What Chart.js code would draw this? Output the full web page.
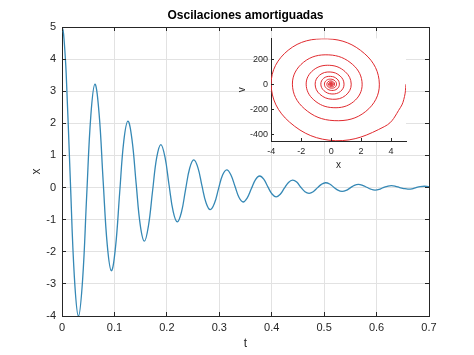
<!DOCTYPE html>
<html><head><meta charset="utf-8">
<script src="https://cdn.jsdelivr.net/npm/chart.js@4/dist/chart.umd.min.js"></script>
<style>
html,body{margin:0;padding:0;background:#fff;}
#wrap{position:relative;width:474px;height:355px;overflow:hidden;}
canvas{position:absolute;}
#main{left:0;top:0;width:474px;height:355px;}
#inset{left:228px;top:30px;width:190px;height:145px;}
</style>
</head><body>
<div id="wrap">
<canvas id="main" width="474" height="355"></canvas>
<canvas id="inset" width="190" height="145"></canvas>
</div>
<script>
// time samples (s)
const tValues = [0,0.0020,0.0039,0.0079,0.0157,0.0236,0.0314,0.0393,0.0471,0.0550,0.0628,0.0707,0.0785,0.0864,0.0942,0.1021,0.1100,0.1178,0.1257,0.1335,0.1414,0.1492,0.1571,0.1649,0.1728,0.1806,0.1885,0.1963,0.2042,0.2121,0.2199,0.2278,0.2356,0.2435,0.2513,0.2592,0.2670,0.2749,0.2827,0.2906,0.2985,0.3063,0.3142,0.3220,0.3299,0.3377,0.3456,0.3534,0.3613,0.3691,0.3770,0.3848,0.3927,0.4006,0.4084,0.4163,0.4241,0.4320,0.4398,0.4477,0.4555,0.4634,0.4712,0.4791,0.4869,0.4948,0.5027,0.5105,0.5184,0.5262,0.5341,0.5419,0.5498,0.5576,0.5655,0.5733,0.5812,0.5890,0.5969,0.6048,0.6126,0.6205,0.6283,0.6362,0.6440,0.6519,0.6597,0.6676,0.6754,0.6833,0.6912,0.6990,0.7000];
// displacement x(t)
const xValues = [5,4.90,4.62,3.58,0.31,-2.79,-4.01,-2.87,-0.25,2.24,3.22,2.31,0.20,-1.80,-2.59,-1.85,-0.16,1.44,2.07,1.49,0.13,-1.16,-1.67,-1.19,-0.10,0.93,1.34,0.96,0.08,-0.75,-1.07,-0.77,-0.07,0.60,0.86,0.62,0.05,-0.48,-0.69,-0.50,-0.04,0.39,0.55,0.40,0.04,-0.31,-0.45,-0.32,-0.03,0.25,0.36,0.26,0.02,-0.20,-0.29,-0.21,-0.02,0.16,0.23,0.17,0.01,-0.13,-0.18,-0.13,-0.01,0.10,0.15,0.11,0.01,-0.08,-0.12,-0.09,-0.01,0.07,0.10,0.07,0.01,-0.05,-0.08,-0.06,0,0.04,0.06,0.04,0,-0.03,-0.05,-0.04,0,0.03,0.04,0.03,0.03];
// velocity v(t)
const vValues = [0,-98,-187,-336,-450,-301,0,270,361,242,0,-217,-290,-194,0,174,233,156,0,-140,-187,-125,0,112,150,100,0,-90,-120,-81,0,72,97,65,0,-58,-78,-52,0,47,62,42,0,-37,-50,-33,0,30,40,27,0,-24,-32,-22,0,19,26,17,0,-16,-21,-14,0,12,17,11,0,-10,-13,-9,0,8,11,7,0,-6,-9,-6,0,5,7,5,0,-4,-6,-4,0,3,4,3,0,-3,-3];

const tTicks = [0,0.1,0.2,0.3,0.4,0.5,0.6,0.7];
const tTickLabels = ['0','0.1','0.2','0.3','0.4','0.5','0.6','0.7'];
const xTicks = [-4,-3,-2,-1,0,1,2,3,4,5];
const xTickLabels = ['-4','-3','-2','-1','0','1','2','3','4','5'];
const insetXTicks = [-4,-2,0,2,4];
const insetXTickLabels = ['-4','-2','0','2','4'];
const insetVTicks = [-400,-200,0,200];
const insetVTickLabels = ['-400','-200','0','200'];

const AX = '#262626';
const GRID = '#e2e2e2';
Chart.defaults.font.family = "'Liberation Sans', Arial, Helvetica, sans-serif";
Chart.defaults.color = AX;

function alignPx(p){ return Math.round(p - 0.5) + 0.5; }

const frame = {
  id: 'frame',
  beforeDraw(chart, args, opts){
    const {ctx, chartArea:a} = chart;
    ctx.save();
    ctx.fillStyle = '#fff';
    if (opts.full) ctx.fillRect(0,0,chart.width,chart.height);
    else ctx.fillRect(a.left, a.top, a.right-a.left, a.bottom-a.top);
    ctx.restore();
  },
  afterDraw(chart, args, opts){
    const {ctx, chartArea:a, scales} = chart;
    const L = opts.len;
    ctx.save();
    ctx.strokeStyle = AX; ctx.lineWidth = 1;
    ctx.beginPath();
    scales.x.ticks.forEach(t => {
      const p = alignPx(scales.x.getPixelForValue(t.value));
      ctx.moveTo(p, a.bottom); ctx.lineTo(p, a.bottom - L);
      if (opts.box){ ctx.moveTo(p, a.top); ctx.lineTo(p, a.top + L); }
    });
    scales.y.ticks.forEach(t => {
      const p = alignPx(scales.y.getPixelForValue(t.value));
      ctx.moveTo(a.left, p); ctx.lineTo(a.left + L, p);
      if (opts.box){ ctx.moveTo(a.right, p); ctx.lineTo(a.right - L, p); }
    });
    if (opts.box){
      const top = alignPx(a.top), right = alignPx(a.right);
      ctx.moveTo(a.left, top); ctx.lineTo(right, top);
      ctx.moveTo(right, top); ctx.lineTo(right, a.bottom);
    }
    ctx.stroke();
    ctx.restore();
  }
};

new Chart(document.getElementById('main'), {
  type: 'scatter',
  data: { datasets: [{
    data: tValues.map((t,i)=>({x:t, y:xValues[i]})),
    showLine: true, borderColor: '#3588b5', borderWidth: 1.3,
    pointRadius: 0, tension: 0.4, fill: false
  }]},
  options: {
    responsive: false, animation: false, devicePixelRatio: 1,
    layout: { padding: {left:0, right:45, top:0, bottom:0} },
    plugins: {
      legend: {display:false}, tooltip: {enabled:false},
      title: { display:true, text:'Oscilaciones amortiguadas', fullSize:false, color:'#000',
        font:{size:12, weight:'bold'}, padding:{top:8, bottom:4.6} },
      frame: { full:true, box:true, len:4 }
    },
    scales: {
      x: { type:'linear', min:0, max:0.7,
        afterBuildTicks: s => { s.ticks = tTicks.map(v=>({value:v})); },
        afterFit: s => { s.height = 39; },
        grid: { color: GRID, drawTicks:false },
        border: { color: AX, width: 1 },
        ticks: { color: AX, font:{size:11}, padding:5, maxRotation:0, autoSkip:false,
          callback: v => tTickLabels[tTicks.indexOf(v)] },
        title: { display:true, text:'t', color:AX, font:{size:12}, padding:{top:0, bottom:4} }
      },
      y: { type:'linear', min:-4, max:5,
        afterBuildTicks: s => { s.ticks = xTicks.map(v=>({value:v})); },
        afterFit: s => { s.width = 62; },
        grid: { color: GRID, drawTicks:false },
        border: { color: AX, width: 1 },
        ticks: { color: AX, font:{size:11}, padding:6, autoSkip:false,
          callback: v => xTickLabels[xTicks.indexOf(v)] },
        title: { display:true, text:'x', color:AX, font:{size:12}, padding:{top:29.5, bottom:0} }
      }
    }
  },
  plugins: [frame]
});

new Chart(document.getElementById('inset'), {
  type: 'scatter',
  data: { datasets: [{
    data: xValues.map((x,i)=>({x:x, y:vValues[i]})),
    showLine: true, borderColor: '#e02a2f', borderWidth: 1,
    pointRadius: 0, tension: 0.4, fill: false
  }]},
  options: {
    responsive: false, animation: false, devicePixelRatio: 1,
    layout: { padding: {left:0, right:12, top:5, bottom:0} },
    plugins: {
      legend: {display:false}, tooltip: {enabled:false},
      frame: { full:false, box:false, len:3 }
    },
    scales: {
      x: { type:'linear', min:-4.02, max:5,
        afterBuildTicks: s => { s.ticks = insetXTicks.map(v=>({value:v})); },
        afterFit: s => { s.height = 34; },
        grid: { display:false, drawTicks:false },
        border: { color: AX, width: 1 },
        ticks: { color: AX, font:{size:9}, padding:5, maxRotation:0, autoSkip:false,
          callback: v => insetXTickLabels[insetXTicks.indexOf(v)] },
        title: { display:true, text:'x', color:AX, font:{size:10}, padding:{top:0, bottom:4} }
      },
      y: { type:'linear', min:-452, max:364,
        afterBuildTicks: s => { s.ticks = insetVTicks.map(v=>({value:v})); },
        afterFit: s => { s.width = 43; },
        grid: { display:false, drawTicks:false },
        border: { color: AX, width: 1 },
        ticks: { color: AX, font:{size:9}, padding:3, autoSkip:false,
          callback: v => insetVTickLabels[insetVTicks.indexOf(v)] },
        title: { display:true, text:'v', color:AX, font:{size:10}, padding:{top:8, bottom:0} }
      }
    }
  },
  plugins: [frame]
});
</script>
</body></html>
